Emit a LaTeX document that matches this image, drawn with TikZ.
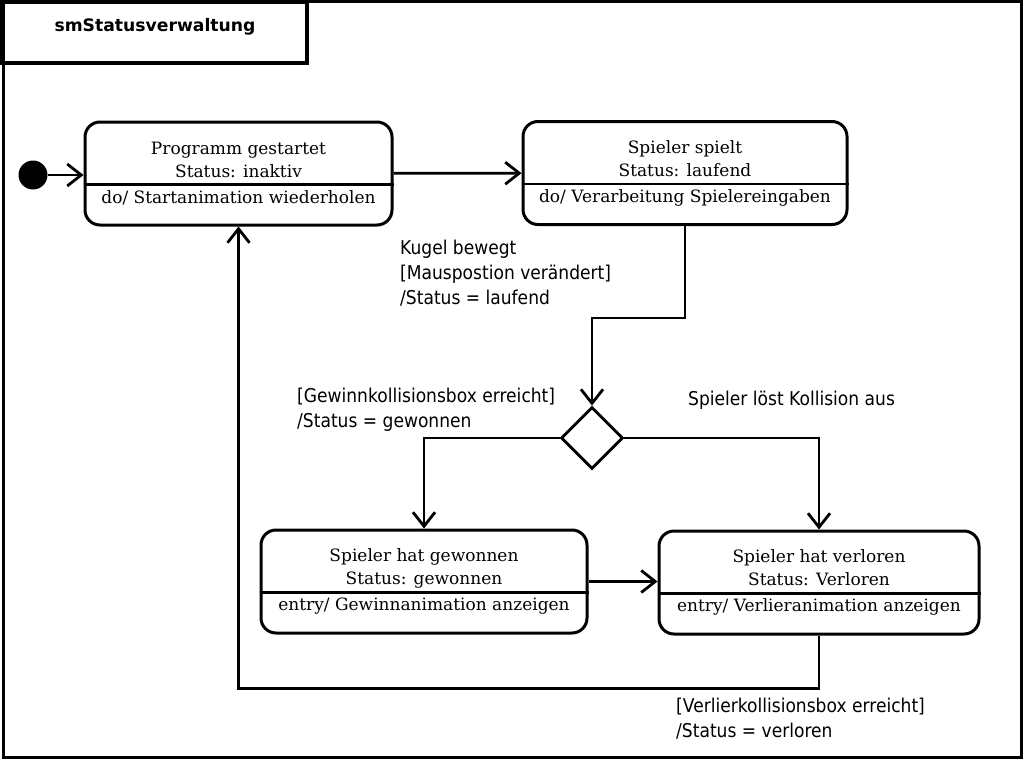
\documentclass[tikz,border=0pt]{standalone}
\usepackage{fontspec}
\setmainfont{DejaVu Serif}
\newfontfamily\lblfont{DejaVu Sans}[FakeStretch=0.9]
\newfontfamily\headfont{DejaVu Sans}
\usetikzlibrary{shapes.geometric, arrows.meta, positioning, calc}

\begin{document}
\begin{tikzpicture}[
    x=1pt, y=-1pt,
    state/.style={draw, rounded corners=15pt, line width=3pt, align=center, inner sep=0pt,
                  minimum height=103pt, font=\fontsize{17}{23}\selectfont,
                  execute at begin node={\rule{0pt}{23pt}}},
    initial/.style={circle, fill=black, inner sep=0pt, minimum size=29pt},
    choice/.style={diamond, draw, line width=2.8pt, inner sep=0pt, minimum width=62pt, minimum height=62pt},
    guard/.style={align=left, inner sep=0pt, font=\lblfont\fontsize{19}{25}\selectfont},
    frame/.style={draw, line width=3pt},
    trans/.style={line width=2.8pt, -{Straight Barb[length=14pt, width=22pt, line width=2.8pt]}}
]

\useasboundingbox[fill=white] (0,0) rectangle (1025,760);

% frame and name of the machine
\draw[frame] (3,2) rectangle (1021,757);
\draw[frame, line width=4pt] (2,2) rectangle (307,63);
\node[font=\headfont\bfseries\fontsize{17.2}{20}\selectfont] (title) at (155,27) {smStatusverwaltung};

% states
\node[initial] (init) at (33,175) {};
\node[state, minimum width=307pt] (start) at (238.5,173.5) {Programm gestartet\\Status: inaktiv\\[3pt]do/ Startanimation wiederholen};
\node[state, minimum width=324pt] (play) at (685,173) {Spieler spielt\\Status: laufend\\[3pt]do/ Verarbeitung Spielereingaben};
\node[choice] (dec) at (592,438) {};
\node[state, minimum width=326pt] (won) at (424,581.5) {Spieler hat gewonnen\\Status: gewonnen\\[3pt]entry/ Gewinnanimation anzeigen};
\node[state, minimum width=320pt] (lost) at (819,582.5) {Spieler hat verloren\\Status: Verloren\\[3pt]entry/ Verlieranimation anzeigen};

% compartment lines
\foreach \s in {start, play, won, lost}
    \draw[line width=2.8pt] ($(\s.north west)+(0,64)$) -- ($(\s.north east)+(0,64)$);

% transitions
\draw[trans] (init) -- (init -| start.west);
\draw[trans] (start) -- (play);
\draw[trans] (play.south) -- ++(0,92) -| (dec.north);
\draw[trans] (dec.west) -| (won.north);
\draw[trans] (dec.east) -| (lost.north);
\draw[trans] (won.east) -- (won.east -| lost.west);
\draw[trans] (lost.south) -- ++(0,53) -| (start.south);

% labels
\node[guard, anchor=west] (lblplay) at (400,273) {Kugel bewegt\\{}[Mauspostion verändert]\\/Status = laufend};
\node[guard, anchor=west] (lblwon) at (297,409.5) {[Gewinnkollisionsbox erreicht]\\/Status = gewonnen};
\node[guard, anchor=west] (lblhit) at (688,400) {Spieler löst Kollision aus};
\node[guard, anchor=west] (lbllost) at (676,718.5) {[Verlierkollisionsbox erreicht]\\/Status = verloren};

\end{tikzpicture}
\end{document}
